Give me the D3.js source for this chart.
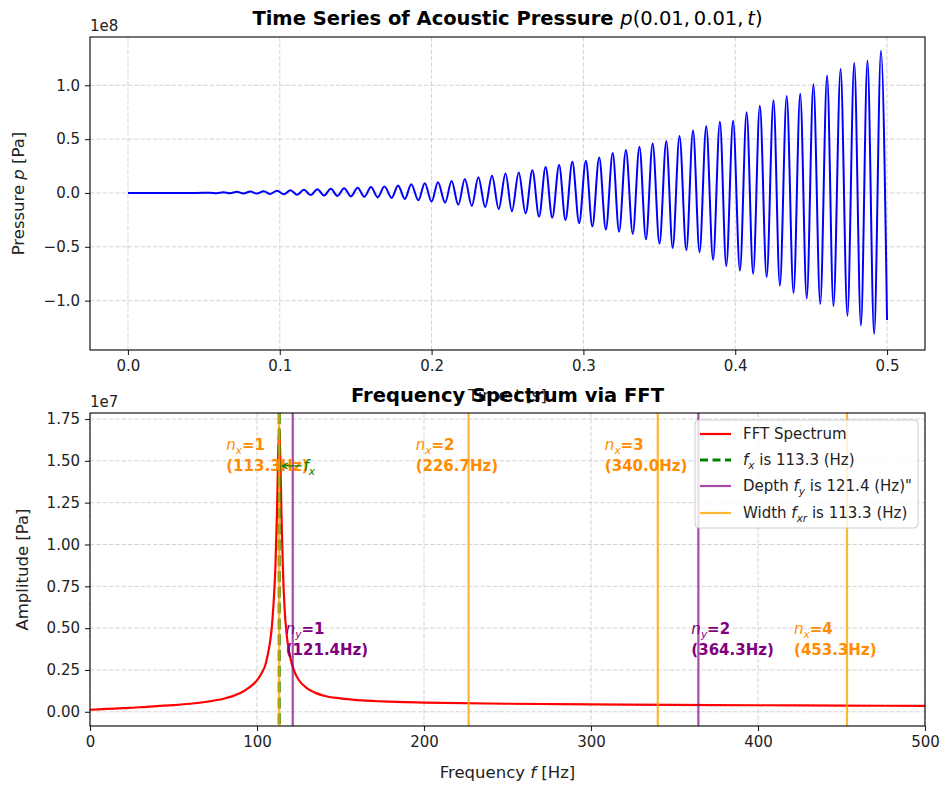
<!DOCTYPE html>
<html>
<head>
<meta charset="utf-8">
<script src="https://cdn.jsdelivr.net/npm/d3@7"></script>
<style>
  body { margin: 0; background: #fff; }
  svg { font-family: "DejaVu Sans", sans-serif; }
</style>
</head>
<body>
<div id="chart"></div>
<script>
// ---- time series p(0.01, 0.01, t): extrema, pressure in 1e8 Pa
const timeS = [
  0, 0.045, 0.0540, 0.0584, 0.0629, 0.0673, 0.0717, 0.0761, 0.0806, 0.0850,
  0.0894, 0.0938, 0.0982, 0.1027, 0.1071, 0.1115, 0.1159, 0.1204, 0.1248, 0.1292,
  0.1336, 0.1380, 0.1424, 0.1469, 0.1513, 0.1557, 0.1601, 0.1645, 0.1689, 0.1737,
  0.1779, 0.1824, 0.1866, 0.1913, 0.1955, 0.2000, 0.2042, 0.2089, 0.2132, 0.2176,
  0.2219, 0.2265, 0.2308, 0.2353, 0.2398, 0.2442, 0.2487, 0.2529, 0.2574, 0.2619,
  0.2664, 0.2708, 0.2751, 0.2795, 0.2840, 0.2882, 0.2927, 0.2972, 0.3016, 0.3059,
  0.3104, 0.3148, 0.3193, 0.3235, 0.3280, 0.3325, 0.3369, 0.3412, 0.3456, 0.3501,
  0.3546, 0.3588, 0.3633, 0.3678, 0.3722, 0.3765, 0.3809, 0.3854, 0.3899, 0.3941,
  0.3986, 0.4031, 0.4075, 0.4118, 0.4162, 0.4207, 0.4252, 0.4294, 0.4339, 0.4384,
  0.4428, 0.4471, 0.4515, 0.4560, 0.4605, 0.4647, 0.4694, 0.4739, 0.4784, 0.4828,
  0.4871, 0.4915, 0.4960, 0.5000
];
const pressure = [
  0, 0, 0.003, -0.002, 0.006, -0.003, 0.011, -0.005, 0.014, -0.006,
  0.017, -0.009, 0.021, -0.012, 0.025, -0.016, 0.029, -0.020, 0.034, -0.024,
  0.039, -0.028, 0.044, -0.032, 0.049, -0.036, 0.055, -0.041, 0.06, -0.046,
  0.07, -0.055, 0.08, -0.068, 0.09, -0.08, 0.10, -0.09, 0.11, -0.11,
  0.13, -0.12, 0.145, -0.13, 0.16, -0.15, 0.18, -0.17, 0.19, -0.19,
  0.21, -0.22, 0.24, -0.23, 0.26, -0.25, 0.29, -0.28, 0.30, -0.31,
  0.33, -0.34, 0.37, -0.36, 0.40, -0.38, 0.43, -0.43, 0.46, -0.47,
  0.48, -0.51, 0.53, -0.53, 0.58, -0.55, 0.62, -0.62, 0.66, -0.68,
  0.67, -0.72, 0.75, -0.75, 0.81, -0.78, 0.86, -0.86, 0.90, -0.93,
  0.92, -0.98, 1.01, -1.03, 1.09, -1.05, 1.15, -1.14, 1.21, -1.23,
  1.23, -1.31, 1.32, -1.18
];
const timeTicks = [0, 0.1, 0.2, 0.3, 0.4, 0.5];
const pressureTicks = [-1.0, -0.5, 0, 0.5, 1.0];

// ---- FFT spectrum, amplitude in 1e7 Pa
const freqHz = [
  0, 10, 20, 30, 40, 50, 60, 70, 80, 85, 90, 95, 100, 103, 105, 106, 108, 109, 110,
  111, 112, 112.6, 113.3, 114, 114.6, 115.5, 116.5, 118, 120, 122, 125, 130, 135,
  140, 150, 160, 175, 200, 250, 300, 350, 400, 450, 500
];
const amplitude = [
  0.012, 0.017, 0.022, 0.027, 0.034, 0.040, 0.048, 0.060, 0.078, 0.092, 0.112, 0.143,
  0.188, 0.235, 0.28, 0.32, 0.43, 0.52, 0.66, 0.86, 1.20, 1.50, 1.70, 1.50, 1.20, 0.86,
  0.62, 0.44, 0.32, 0.25, 0.19, 0.14, 0.113, 0.096, 0.080, 0.070, 0.062, 0.055, 0.048,
  0.044, 0.041, 0.039, 0.037, 0.035
];
const freqTicks = [0, 100, 200, 300, 400, 500];
const ampTicks = [0, 0.25, 0.5, 0.75, 1.0, 1.25, 1.5, 1.75];

const fx = 113.3, fy = 121.4, fxr = 113.3;
const widthModes = [1, 2, 3, 4];
const widthFreqs = [113.3, 226.7, 340.0, 453.3];
const depthModes = [1, 2];
const depthFreqs = [121.4, 364.3];

const W = 942, H = 786;
const FS = 15;
const svg = d3.select("#chart").append("svg").attr("width", W).attr("height", H);

// rich text helper for mathtext-like pieces: {t, i: italic, sub, b: bold, n: normal}
function rich(textSel, parts, size) {
  let shifted = false;
  parts.forEach(p => {
    const ts = textSel.append("tspan").text(p.t);
    if (p.i) ts.style("font-style", "italic").style("font-weight", "normal");
    if (p.n) ts.style("font-weight", "normal");
    if (p.b) ts.style("font-weight", "bold");
    if (p.sub && !shifted) { ts.attr("dy", size * 0.25); shifted = true; }
    if (!p.sub && shifted) { ts.attr("dy", -size * 0.25); shifted = false; }
    if (p.sub) ts.style("font-size", (size * 0.7) + "px");
  });
  return textSel;
}

function frame(g, box) {
  g.append("rect")
    .attr("x", box.l).attr("y", box.t).attr("width", box.r - box.l).attr("height", box.b - box.t)
    .attr("fill", "none").attr("stroke", "#000").attr("stroke-width", 1.1);
}

function grid(g, x, y, xt, yt, box) {
  g.selectAll(null).data(xt).join("line")
    .attr("x1", d => x(d)).attr("x2", d => x(d))
    .attr("y1", box.t).attr("y2", box.b)
    .attr("stroke", "#b0b0b0").attr("stroke-opacity", 0.55)
    .attr("stroke-width", 1).attr("stroke-dasharray", "4.4,1.9");
  g.selectAll(null).data(yt).join("line")
    .attr("y1", d => y(d)).attr("y2", d => y(d))
    .attr("x1", box.l).attr("x2", box.r)
    .attr("stroke", "#b0b0b0").attr("stroke-opacity", 0.55)
    .attr("stroke-width", 1).attr("stroke-dasharray", "4.4,1.9");
}

function axes(g, x, y, xt, yt, box, xf, yf) {
  const ax = g.append("g").attr("transform", `translate(0,${box.b})`)
    .call(d3.axisBottom(x).tickValues(xt).tickFormat(xf).tickSizeOuter(0).tickSize(5).tickPadding(5));
  const ay = g.append("g").attr("transform", `translate(${box.l},0)`)
    .call(d3.axisLeft(y).tickValues(yt).tickFormat(yf).tickSizeOuter(0).tickSize(5).tickPadding(5));
  [ax, ay].forEach(a => {
    a.select(".domain").remove();
    a.selectAll("text").style("font-size", FS + "px").attr("fill", "#222")
      .style("font-family", "DejaVu Sans");
    a.selectAll("line").attr("stroke", "#222").attr("stroke-width", 1.1);
  });
}

// ================= top panel =================
const boxTop = { l: 90, r: 925, t: 37, b: 350 };
const xT = d3.scaleLinear().domain([-0.025, 0.525]).range([boxTop.l, boxTop.r]);
const yT = d3.scaleLinear().domain([-1.458, 1.448]).range([boxTop.b, boxTop.t]);
const gT = svg.append("g");

grid(gT, xT, yT, timeTicks, pressureTicks, boxTop);

gT.append("path")
  .datum(timeS.map((t, i) => [t, pressure[i]]))
  .attr("fill", "none").attr("stroke", "blue").attr("stroke-width", 2)
  .attr("stroke-linejoin", "round")
  .attr("d", d3.line().x(d => xT(d[0])).y(d => yT(d[1])).curve(d3.curveMonotoneX));

axes(gT, xT, yT, timeTicks, pressureTicks, boxTop, d3.format(".1f"), d3.format(".1f"));
frame(gT, boxTop);

gT.append("text").attr("x", boxTop.l).attr("y", boxTop.t - 6)
  .style("font-size", FS + "px").attr("fill", "#222").text("1e8");

rich(gT.append("text").attr("x", (boxTop.l + boxTop.r) / 2).attr("y", 25)
  .attr("text-anchor", "middle").style("font-size", "19.5px").style("font-weight", "bold"),
  [{ t: "Time Series of Acoustic Pressure " }, { t: "p", i: 1 },
   { t: "(0.01,\u20090.01,\u2009", n: 1 }, { t: "t", i: 1 }, { t: ")", n: 1 }], 19.5);

rich(gT.append("text").attr("x", (boxTop.l + boxTop.r) / 2).attr("y", 401)
  .attr("text-anchor", "middle").style("font-size", "16.5px").attr("fill", "#222"),
  [{ t: "Time " }, { t: "t", i: 1 }, { t: " [s]" }], 16.5);

rich(gT.append("text").attr("transform", `translate(24,${(boxTop.t + boxTop.b) / 2}) rotate(-90)`)
  .attr("text-anchor", "middle").style("font-size", "16.5px").attr("fill", "#222"),
  [{ t: "Pressure " }, { t: "p", i: 1 }, { t: " [Pa]" }], 16.5);

// ================= bottom panel =================
const boxBot = { l: 90, r: 925, t: 413, b: 726 };
const xB = d3.scaleLinear().domain([0, 500]).range([boxBot.l, boxBot.r]);
const yB = d3.scaleLinear().domain([-0.085, 1.786]).range([boxBot.b, boxBot.t]);
const gB = svg.append("g");

gB.append("text").attr("x", (boxBot.l + boxBot.r) / 2).attr("y", 402)
  .attr("text-anchor", "middle").style("font-size", "19.5px").style("font-weight", "bold")
  .text("Frequency Spectrum via FFT");

grid(gB, xB, yB, freqTicks, ampTicks, boxBot);

gB.append("path")
  .datum(freqHz.map((f, i) => [f, amplitude[i]]))
  .attr("fill", "none").attr("stroke", "red").attr("stroke-width", 2.2)
  .attr("stroke-linejoin", "round")
  .attr("d", d3.line().x(d => xB(d[0])).y(d => yB(d[1])).curve(d3.curveMonotoneX));

// f_x dashed
gB.append("line")
  .attr("x1", xB(fx)).attr("x2", xB(fx)).attr("y1", boxBot.t).attr("y2", boxBot.b)
  .attr("stroke", "green").attr("stroke-width", 3).attr("stroke-dasharray", "11,4.8");

// depth modes
gB.selectAll(null).data(depthFreqs).join("line")
  .attr("x1", d => xB(d)).attr("x2", d => xB(d)).attr("y1", boxBot.t).attr("y2", boxBot.b)
  .attr("stroke", "purple").attr("stroke-opacity", 0.7).attr("stroke-width", 2.2);

// width modes
gB.selectAll(null).data(widthFreqs).join("line")
  .attr("x1", d => xB(d)).attr("x2", d => xB(d)).attr("y1", boxBot.t).attr("y2", boxBot.b)
  .attr("stroke", "orange").attr("stroke-opacity", 0.8).attr("stroke-width", 2.2);

// mode labels
widthModes.forEach((n, i) => {
  const f = widthFreqs[i];
  const yy = n === 4 ? yB(0.495) : yB(1.595);
  const t = gB.append("text").attr("x", xB(f - 31.7)).attr("y", yy).attr("dy", "0.35em")
    .style("font-size", FS + "px").style("font-weight", "bold").attr("fill", "darkorange");
  rich(t, [{ t: "n", i: 1 }, { t: "x", i: 1, sub: 1 }, { t: "=" + n, b: 1 }], FS);
  gB.append("text").attr("x", xB(f - 31.7)).attr("y", yy + 21).attr("dy", "0.35em")
    .style("font-size", FS + "px").style("font-weight", "bold").attr("fill", "darkorange")
    .text(`(${f.toFixed(1)}Hz)`);
});
depthModes.forEach((n, i) => {
  const f = depthFreqs[i];
  const yy = yB(0.495);
  const t = gB.append("text").attr("x", xB(f - 4.2)).attr("y", yy).attr("dy", "0.35em")
    .style("font-size", FS + "px").style("font-weight", "bold").attr("fill", "purple");
  rich(t, [{ t: "n", i: 1 }, { t: "y", i: 1, sub: 1 }, { t: "=" + n, b: 1 }], FS);
  gB.append("text").attr("x", xB(f - 4.2)).attr("y", yy + 21).attr("dy", "0.35em")
    .style("font-size", FS + "px").style("font-weight", "bold").attr("fill", "purple")
    .text(`(${f.toFixed(1)}Hz)`);
});

// f_x pointer
const ay0 = yB(1.595) + 21;
gB.append("path")
  .attr("d", `M${xB(fx + 13.5)},${ay0} L${xB(fx + 2)},${ay0} M${xB(fx + 5)},${ay0 - 3} L${xB(fx + 2)},${ay0} L${xB(fx + 5)},${ay0 + 3}`)
  .attr("fill", "none").attr("stroke", "green").attr("stroke-width", 1.3);
rich(gB.append("text").attr("x", xB(fx + 14.5)).attr("y", ay0).attr("dy", "0.35em")
  .style("font-size", FS + "px").attr("fill", "green"),
  [{ t: "f", i: 1 }, { t: "x", i: 1, sub: 1 }], FS);

axes(gB, xB, yB, freqTicks, ampTicks, boxBot, d3.format("d"), d3.format(".2f"));
frame(gB, boxBot);

gB.append("text").attr("x", boxBot.l).attr("y", boxBot.t - 6)
  .style("font-size", FS + "px").attr("fill", "#222").text("1e7");

rich(gB.append("text").attr("x", (boxBot.l + boxBot.r) / 2).attr("y", 778)
  .attr("text-anchor", "middle").style("font-size", "16.5px").attr("fill", "#222"),
  [{ t: "Frequency " }, { t: "f", i: 1 }, { t: " [Hz]" }], 16.5);

gB.append("text").attr("transform", `translate(28,${(boxBot.t + boxBot.b) / 2}) rotate(-90)`)
  .attr("text-anchor", "middle").style("font-size", "16.5px").attr("fill", "#222")
  .text("Amplitude [Pa]");

// legend
const leg = gB.append("g").attr("transform", "translate(695,420)");
leg.append("rect").attr("width", 223).attr("height", 108).attr("rx", 4)
  .attr("fill", "#fff").attr("fill-opacity", 0.8).attr("stroke", "#ccc");
const legItems = [
  { stroke: "red", op: 1, dash: null, w: 2.2, parts: [{ t: "FFT Spectrum" }] },
  { stroke: "green", op: 1, dash: "8,4.5", w: 3,
    parts: [{ t: "f", i: 1 }, { t: "x", i: 1, sub: 1 }, { t: ` is ${fx.toFixed(1)} (Hz)` }] },
  { stroke: "purple", op: 0.7, dash: null, w: 2.2,
    parts: [{ t: "Depth " }, { t: "f", i: 1 }, { t: "y", i: 1, sub: 1 }, { t: ` is ${fy.toFixed(1)} (Hz)"` }] },
  { stroke: "orange", op: 0.8, dash: null, w: 2.2,
    parts: [{ t: "Width " }, { t: "f", i: 1 }, { t: "xr", i: 1, sub: 1 }, { t: ` is ${fxr.toFixed(1)} (Hz)` }] }
];
const rowY = [14, 40, 66, 93];
legItems.forEach((it, i) => {
  leg.append("line").attr("x1", 5).attr("x2", 36).attr("y1", rowY[i]).attr("y2", rowY[i])
    .attr("stroke", it.stroke).attr("stroke-opacity", it.op).attr("stroke-width", it.w)
    .attr("stroke-dasharray", it.dash);
  rich(leg.append("text").attr("x", 48).attr("y", rowY[i]).attr("dy", "0.35em")
    .style("font-size", FS + "px").attr("fill", "#222"), it.parts, FS);
});
</script>
</body>
</html>
